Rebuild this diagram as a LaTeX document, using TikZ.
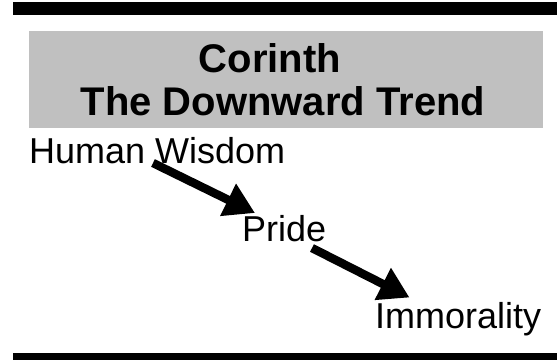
\documentclass[tikz,border=0pt]{standalone}
\usepackage{fontspec}
\setmainfont{Liberation Sans}
\usetikzlibrary{arrows.meta}
\definecolor{titlegray}{HTML}{C0C0C0}
\begin{document}
\begin{tikzpicture}[x=1pt,y=-1pt,
  bar/.style={fill=black},
  titlebox/.style={fill=titlegray, draw=none, inner sep=0, anchor=north west},
  titletext/.style={font=\bfseries\fontsize{40}{48}\selectfont, inner sep=0, anchor=base},
  word/.style={font=\fontsize{36}{43}\selectfont, inner sep=0, anchor=base west},
  downarrow/.style={line width=8.5pt, -{Triangle[length=30pt,width=34pt]}}]
\useasboundingbox (0,0) rectangle (557,360);
\fill[bar] (13,2) rectangle (557,15);
\fill[bar] (13,353) rectangle (557,360);
\node[titlebox, minimum width=514pt, minimum height=97pt] (box) at (29,31) {};
\node[titletext] (t1) at (270,72) {Corinth};
\node[titletext] (t2) at (283,115) {The Downward Trend};
\node[word] (hw) at (29,163) {Human Wisdom};
\node[word] (pr) at (242,241) {Pride};
\node[word] (im) at (375,328) {Immorality};
\draw[downarrow] ([xshift=124pt]hw.base west) -- ([xshift=13pt,yshift=28pt]pr.base west);
\draw[downarrow] ([xshift=70pt,yshift=-7pt]pr.base west) -- ([xshift=34.5pt,yshift=30.5pt]im.base west);
\end{tikzpicture}
\end{document}
